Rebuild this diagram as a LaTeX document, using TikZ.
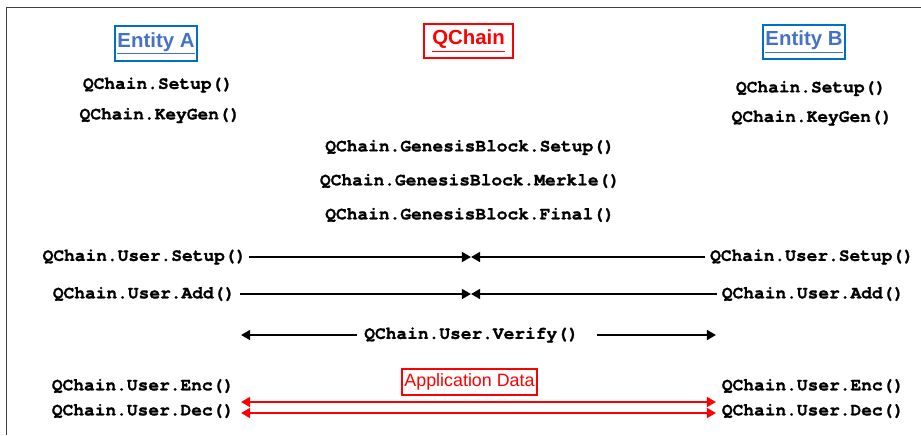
\documentclass[tikz,border=0pt]{standalone}
\usepackage{fontspec}
\setmainfont{Liberation Sans}
\setmonofont[BoldFeatures={FakeBold=1.2}]{TeX Gyre Cursor}
\usetikzlibrary{arrows.meta}
\definecolor{blue1}{RGB}{68,114,196}
\definecolor{blue2}{RGB}{0,112,192}
\definecolor{red1}{RGB}{255,0,0}
\definecolor{gray1}{RGB}{64,64,64}

\begin{document}
\begin{tikzpicture}[x=0.025cm, y=-0.025cm,
  code/.style={font=\ttfamily\bfseries\fontsize{12.7}{14}\selectfont, inner sep=1.5pt},
  title/.style={draw, line width=1.2pt, font=\bfseries\fontsize{14.5}{16}\selectfont, minimum height=0.86cm, inner sep=2pt},
  msg/.style={line width=2.1pt, -{Triangle[length=6.5pt,width=7pt]}},
  data/.style={red1, line width=2.1pt, {Triangle[length=6.5pt,width=7pt]}-{Triangle[length=6.5pt,width=7pt]}}]

\useasboundingbox (0,0) rectangle (921,435);

% FRAME
\draw[gray1, line width=1pt] (6.5,435) -- (6.5,7.5) -- (921,7.5);

% TITLES
\node[title, blue1, draw=blue2, minimum width=2.05cm] (entA) at (156,43.5) {\underline{Entity A}};
\node[title, red1, minimum width=2.225cm, minimum height=0.85cm] (chain) at (468.5,41) {\underline{QChain}};
\node[title, blue1, draw=blue2, minimum width=2.05cm] (entB) at (804,42) {\underline{Entity B}};

% SETUP / KEYGEN
\node[code] (aSetup) at (158,85) {QChain.Setup()};
\node[code] (aKeyGen) at (160,115.5) {QChain.KeyGen()};
\node[code] (bSetup) at (811,88.5) {QChain.Setup()};
\node[code] (bKeyGen) at (812,118) {QChain.KeyGen()};

% GENESIS BLOCK
\node[code] (gSetup) at (470,147.5) {QChain.GenesisBlock.Setup()};
\node[code] (gMerkle) at (470,181) {QChain.GenesisBlock.Merkle()};
\node[code] (gFinal) at (470,215) {QChain.GenesisBlock.Final()};

% USER SETUP
\node[code] (aUSetup) at (144.5,257) {QChain.User.Setup()};
\node[code] (bUSetup) at (812,257) {QChain.User.Setup()};
\coordinate (mSetup) at (471,257);
\draw[msg] (aUSetup) -- (mSetup);
\draw[msg] ([xshift=-2pt]bUSetup.west) -- (mSetup);

% USER ADD
\node[code] (aUAdd) at (144,294) {QChain.User.Add()};
\node[code] (bUAdd) at (813,294) {QChain.User.Add()};
\coordinate (mAdd) at (471,294);
\draw[msg] ([xshift=2pt]aUAdd.east) -- (mAdd);
\draw[msg] ([xshift=-2pt]bUAdd.west) -- (mAdd);

% USER VERIFY
\node[code] (verify) at (471.5,335) {QChain.User.Verify()};
\coordinate (vL) at (241,335);
\coordinate (vR) at (716,335);
\draw[msg] ([xshift=-3.5pt]verify.west) -- (vL);
\draw[msg] ([xshift=11pt]verify.east) -- (vR);

% ENC / DEC
\node[draw=red1, red1, line width=0.8pt, font=\fontsize{12.7}{14}\selectfont, minimum width=3.375cm, minimum height=0.65cm, inner sep=1pt] (appData) at (469.5,382) {Application Data};
\node[code] (aEnc) at (143,386) {QChain.User.Enc()};
\node[code] (aDec) at (143,411) {QChain.User.Dec()};
\node[code] (bEnc) at (813,386) {QChain.User.Enc()};
\node[code] (bDec) at (813,411) {QChain.User.Dec()};
\coordinate (eL) at (241,402);
\coordinate (eR) at (716,402);
\coordinate (dL) at (241,413);
\coordinate (dR) at (716,413);
\draw[data] (eL) -- (eR);
\draw[data] (dL) -- (dR);

\end{tikzpicture}
\end{document}
